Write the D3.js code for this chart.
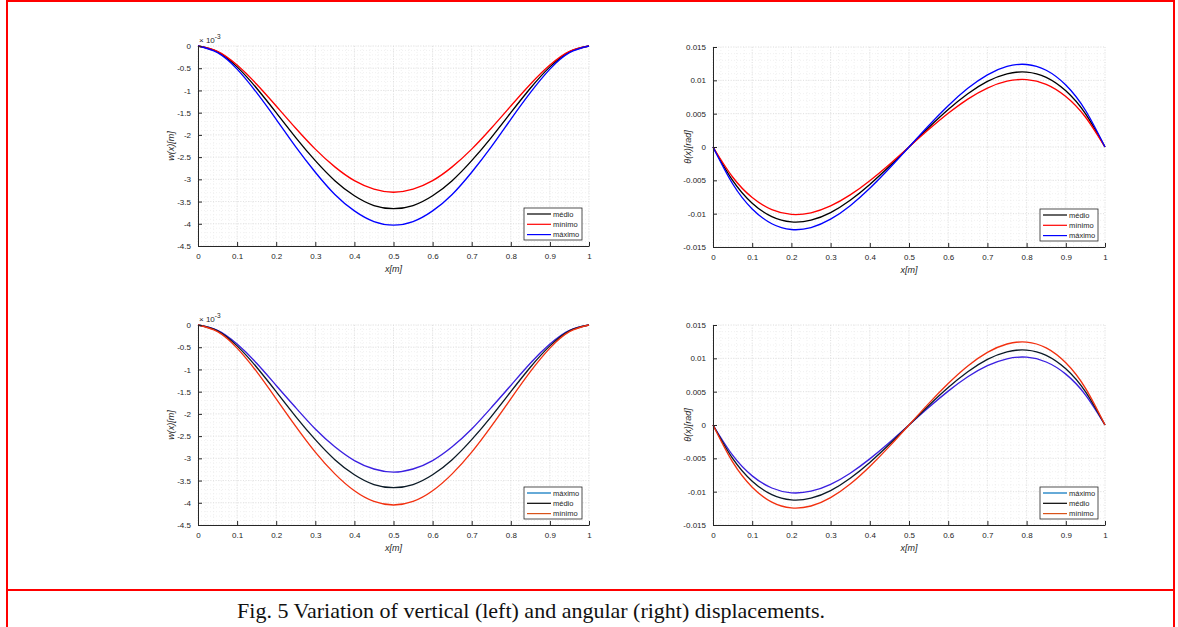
<!DOCTYPE html>
<html>
<head>
<meta charset="utf-8">
<script src="https://cdn.jsdelivr.net/npm/d3@7"></script>
<style>
  body { margin: 0; background: #fff; }
  svg { display: block; }
  .tick text { font-family: "Liberation Sans", Arial, sans-serif; font-size: 8px; fill: #262626; }
  .lab { font-family: "Liberation Sans", Arial, sans-serif; font-size: 9px; fill: #262626; font-style: italic; }
  .leg { font-family: "Liberation Sans", Arial, sans-serif; font-size: 7.5px; fill: #262626; }
</style>
</head>
<body>
<div id="chart"></div>
<script>
const xs = [0, 0.05, 0.1, 0.15, 0.2, 0.25, 0.3, 0.35, 0.4, 0.45, 0.5,
            0.55, 0.6, 0.65, 0.7, 0.75, 0.8, 0.85, 0.9, 0.95, 1];

// vertical displacement, in units of 1e-3 m
const wMedio  = [0, -0.13, -0.47, -0.95, -1.50, -2.06, -2.58, -3.03, -3.37, -3.59, -3.66,
                 -3.59, -3.37, -3.03, -2.58, -2.06, -1.50, -0.95, -0.47, -0.13, 0];
const wMinimo = [0, -0.12, -0.43, -0.86, -1.35, -1.85, -2.32, -2.72, -3.03, -3.22, -3.29,
                 -3.22, -3.03, -2.72, -2.32, -1.85, -1.35, -0.86, -0.43, -0.12, 0];
const wMaximo = [0, -0.15, -0.52, -1.05, -1.65, -2.27, -2.84, -3.34, -3.71, -3.95, -4.03,
                 -3.95, -3.71, -3.34, -2.84, -2.27, -1.65, -1.05, -0.52, -0.15, 0];
// second case (bottom row)
const wMaximo2 = [0, -0.12, -0.43, -0.86, -1.36, -1.86, -2.34, -2.74, -3.05, -3.24, -3.31,
                  -3.24, -3.05, -2.74, -2.34, -1.86, -1.36, -0.86, -0.43, -0.12, 0];
const wMedio2  = wMedio;
const wMinimo2 = [0, -0.15, -0.52, -1.05, -1.66, -2.28, -2.86, -3.35, -3.73, -3.97, -4.05,
                  -3.97, -3.73, -3.35, -2.86, -2.28, -1.66, -1.05, -0.52, -0.15, 0];

// angular displacement, rad
const tMedio  = [0, -0.00501, -0.00843, -0.01045, -0.01124, -0.01098, -0.00984, -0.00799, -0.00562, -0.00290, 0,
                 0.00290, 0.00562, 0.00799, 0.00984, 0.01098, 0.01124, 0.01045, 0.00843, 0.00501, 0];
const tMinimo = [0, -0.00450, -0.00758, -0.00940, -0.01011, -0.00987, -0.00884, -0.00719, -0.00505, -0.00261, 0,
                 0.00261, 0.00505, 0.00719, 0.00884, 0.00987, 0.01011, 0.00940, 0.00758, 0.00450, 0];
const tMaximo = [0, -0.00551, -0.00929, -0.01151, -0.01238, -0.01209, -0.01083, -0.00880, -0.00619, -0.00319, 0,
                 0.00319, 0.00619, 0.00880, 0.01083, 0.01209, 0.01238, 0.01151, 0.00929, 0.00551, 0];
const tMaximo2 = [0, -0.00453, -0.00763, -0.00945, -0.01017, -0.00993, -0.00890, -0.00723, -0.00508, -0.00262, 0,
                  0.00262, 0.00508, 0.00723, 0.00890, 0.00993, 0.01017, 0.00945, 0.00763, 0.00453, 0];
const tMedio2  = tMedio;
const tMinimo2 = [0, -0.00554, -0.00933, -0.01157, -0.01244, -0.01215, -0.01089, -0.00885, -0.00622, -0.00321, 0,
                  0.00321, 0.00622, 0.00885, 0.01089, 0.01215, 0.01244, 0.01157, 0.00933, 0.00554, 0];

const xTicks = [0, 0.1, 0.2, 0.3, 0.4, 0.5, 0.6, 0.7, 0.8, 0.9, 1];
const wTicks = [0, -0.5, -1, -1.5, -2, -2.5, -3, -3.5, -4, -4.5];
const tTicks = [0.015, 0.01, 0.005, 0, -0.005, -0.01, -0.015];

const caption = "Fig. 5 Variation of vertical (left) and angular (right) displacements.";

const width = 1178;
const height = 627;

const svg = d3.select('#chart')
    .append('svg')
    .attr('width', width)
    .attr('height', height);

// red frame around figure + caption
svg.append('rect')
    .attr('x', 7).attr('y', 1)
    .attr('width', 1167).attr('height', 640)
    .attr('fill', 'none').attr('stroke', '#ff0000').attr('stroke-width', 2);
svg.append('line')
    .attr('x1', 7).attr('x2', 1174).attr('y1', 590).attr('y2', 590)
    .attr('stroke', '#ff0000').attr('stroke-width', 2);

svg.append('text')
    .attr('x', 531).attr('y', 618)
    .attr('text-anchor', 'middle')
    .style('font-family', '"Liberation Serif", "Times New Roman", serif')
    .style('font-size', '22px')
    .attr('fill', '#111')
    .text(caption);

const fmt = d => String(+d.toFixed(4));

function panel(opt) {
    const g = svg.append('g').attr('transform', `translate(${opt.left},${opt.top})`);
    const pw = opt.w, ph = opt.h;

    const x = d3.scaleLinear().domain([0, 1]).range([0, pw]);
    const y = d3.scaleLinear().domain(opt.yDomain).range([ph, 0]);

    // minor grid
    const gridMinor = g.append('g');
    d3.range(0, 1.0001, 0.02).forEach(v => {
        gridMinor.append('line').attr('x1', x(v)).attr('x2', x(v)).attr('y1', 0).attr('y2', ph);
    });
    d3.range(opt.yDomain[0], opt.yDomain[1] + 1e-9, opt.yMinor).forEach(v => {
        gridMinor.append('line').attr('x1', 0).attr('x2', pw).attr('y1', y(v)).attr('y2', y(v));
    });
    gridMinor.selectAll('line')
        .attr('stroke', '#e8e8e8').attr('stroke-width', 0.6).attr('stroke-dasharray', '1,2');

    // major grid
    const gridMajor = g.append('g');
    xTicks.forEach(v => {
        gridMajor.append('line').attr('x1', x(v)).attr('x2', x(v)).attr('y1', 0).attr('y2', ph);
    });
    opt.yTicks.forEach(v => {
        gridMajor.append('line').attr('x1', 0).attr('x2', pw).attr('y1', y(v)).attr('y2', y(v));
    });
    gridMajor.selectAll('line')
        .attr('stroke', '#dadada').attr('stroke-width', 0.7).attr('stroke-dasharray', '1,1.5');

    // curves
    const line = d3.line()
        .x((d, i) => x(xs[i]))
        .y(d => y(d))
        .curve(d3.curveNatural);

    opt.series.forEach(s => {
        g.append('path')
            .datum(s.values)
            .attr('d', line)
            .attr('fill', 'none')
            .attr('stroke', s.color)
            .attr('stroke-width', 1.35);
    });

    // axes, ticks pointing inward
    const xAxis = d3.axisBottom(x).tickValues(xTicks).tickFormat(fmt).tickSizeInner(-4).tickSizeOuter(0).tickPadding(7);
    const yAxis = d3.axisLeft(y).tickValues(opt.yTicks).tickFormat(fmt).tickSizeInner(-4).tickSizeOuter(0).tickPadding(7);

    g.append('g').attr('transform', `translate(0,${ph})`).call(xAxis);
    g.append('g').call(yAxis);
    g.selectAll('.domain').attr('stroke', '#262626').attr('stroke-width', 1);
    g.selectAll('.tick line').attr('stroke', '#262626');

    // axis labels
    g.append('text').attr('class', 'lab')
        .attr('x', pw / 2).attr('y', ph + 26)
        .attr('text-anchor', 'middle')
        .text('x[m]');
    g.append('text').attr('class', 'lab')
        .attr('transform', `translate(${opt.yLabelX},${ph / 2}) rotate(-90)`)
        .attr('text-anchor', 'middle')
        .text(opt.yLabel);

    if (opt.exponent) {
        const t = g.append('text').attr('class', 'leg')
            .attr('x', 1).attr('y', -3)
            .style('font-size', '8px');
        t.append('tspan').text('\u00d7 10');
        t.append('tspan').attr('dy', -4).style('font-size', '6.5px').text('-3');
    }

    // legend
    const lg = g.append('g').attr('transform', `translate(${pw - 65},${ph - opt.legendBottom})`);
    lg.append('rect')
        .attr('width', 58).attr('height', 32)
        .attr('fill', '#fff').attr('stroke', '#262626').attr('stroke-width', 0.8);
    opt.legend.forEach((s, i) => {
        lg.append('line')
            .attr('x1', 3).attr('x2', 27)
            .attr('y1', 6 + i * 10.3).attr('y2', 6 + i * 10.3)
            .attr('stroke', s.color).attr('stroke-width', 1.2);
        lg.append('text').attr('class', 'leg')
            .attr('x', 29).attr('y', 8.7 + i * 10.3)
            .text(s.name);
    });
}

const topColors = { medio: '#000000', minimo: '#ff0000', maximo: '#0000ff' };
const botColors = { maximo: '#3a1fe0', medio: '#0b1a26', minimo: '#f2300f' };
const botLegend = { maximo: '#0072bd', medio: '#000000', minimo: '#d95319' };

const topLegend = [
    { name: 'médio', color: topColors.medio },
    { name: 'mínimo', color: topColors.minimo },
    { name: 'máximo', color: topColors.maximo }
];
const bottomLegend = [
    { name: 'máximo', color: botLegend.maximo },
    { name: 'médio', color: botLegend.medio },
    { name: 'mínimo', color: botLegend.minimo }
];

const wCommon = { w: 391, h: 200, yDomain: [-4.5, 0], yTicks: wTicks, yMinor: 0.1,
                  yLabel: 'w(x)[m]', yLabelX: -24, exponent: true, legendBottom: 38 };
const tCommon = { w: 392, h: 200, yDomain: [-0.015, 0.015], yTicks: tTicks, yMinor: 0.001,
                  yLabel: 'θ(x)[rad]', yLabelX: -22, exponent: false, legendBottom: 38 };

panel(Object.assign({}, wCommon, {
    left: 198, top: 46, legend: topLegend,
    series: [
        { values: wMedio, color: topColors.medio },
        { values: wMinimo, color: topColors.minimo },
        { values: wMaximo, color: topColors.maximo }
    ]
}));

panel(Object.assign({}, tCommon, {
    left: 713, top: 47, legend: topLegend,
    series: [
        { values: tMedio, color: topColors.medio },
        { values: tMinimo, color: topColors.minimo },
        { values: tMaximo, color: topColors.maximo }
    ]
}));

panel(Object.assign({}, wCommon, {
    left: 198, top: 325, legend: bottomLegend,
    series: [
        { values: wMaximo2, color: botColors.maximo },
        { values: wMedio2, color: botColors.medio },
        { values: wMinimo2, color: botColors.minimo }
    ]
}));

panel(Object.assign({}, tCommon, {
    left: 713, top: 325, legend: bottomLegend,
    series: [
        { values: tMaximo2, color: botColors.maximo },
        { values: tMedio2, color: botColors.medio },
        { values: tMinimo2, color: botColors.minimo }
    ]
}));
</script>
</body>
</html>
